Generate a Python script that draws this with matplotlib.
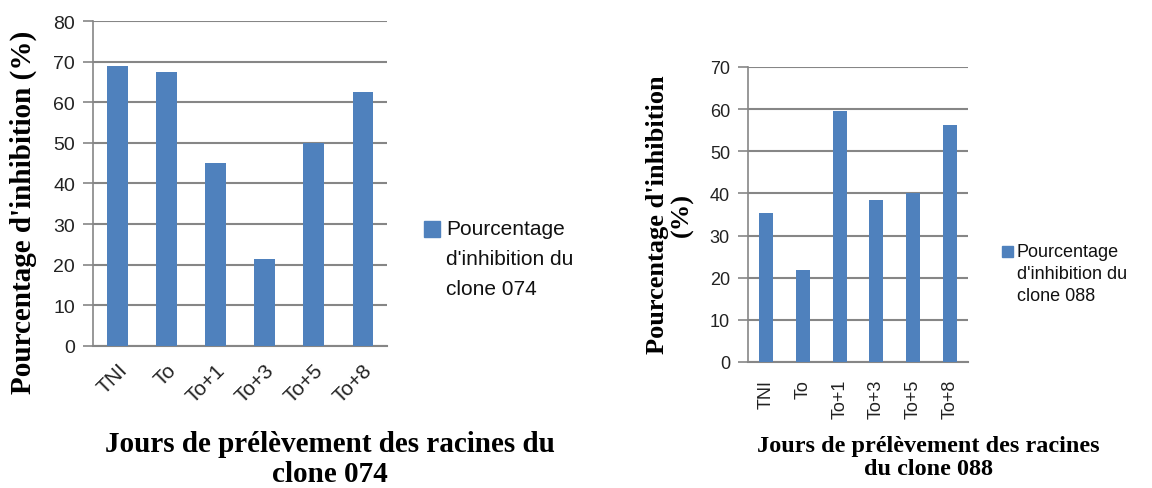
import matplotlib
matplotlib.use("Agg")
import matplotlib.pyplot as plt
from matplotlib.patches import Rectangle

# Inhibition percentages per sampling day
days_074 = ["TNI", "To", "To+1", "To+3", "To+5", "To+8"]
inhib_074 = [69, 67.5, 45, 21.5, 50, 62.5]

days_088 = ["TNI", "To", "To+1", "To+3", "To+5", "To+8"]
inhib_088 = [35.3, 21.8, 59.5, 38.5, 40, 56.2]

yticks_074 = [0, 10, 20, 30, 40, 50, 60, 70, 80]
yticks_088 = [0, 10, 20, 30, 40, 50, 60, 70]

legend_074 = "Pourcentage\nd'inhibition du\nclone 074"
legend_088 = "Pourcentage\nd'inhibition du\nclone 088"

BAR = "#4F81BD"
GRID = "#868686"
SANS = "Liberation Sans"
SERIF = "Liberation Serif"

W, H = 1152, 489
fig = plt.figure(figsize=(W / 100, H / 100), dpi=100)


def px(x, y):
    """Pixel position (from top-left) to figure fraction."""
    return x / W, 1 - y / H


def draw(ax, cats, vals, yticks, width, ytick_size, xtick_size, rot):
    x = [i + 0.5 for i in range(len(cats))]
    ax.bar(x, vals, width=width, color=BAR, zorder=3)
    ax.set_xlim(0, len(cats))
    ax.set_ylim(yticks[0], yticks[-1])
    ax.set_yticks(yticks)
    ax.set_xticks(x)
    if rot == 45:
        ax.set_xticklabels(cats, rotation=45, ha="right", rotation_mode="anchor",
                           fontsize=xtick_size, family=SANS, color="#222222")
        ax.tick_params(axis="x", length=0, pad=10)
    else:
        ax.set_xticklabels(cats, rotation=90, ha="center",
                           fontsize=xtick_size, family=SANS, color="#222222")
        ax.tick_params(axis="x", length=0, pad=12)
    ax.tick_params(axis="y", length=7, width=1.2, color=GRID, pad=6, labelsize=ytick_size)
    for lab in ax.get_yticklabels():
        lab.set_family(SANS)
        lab.set_color("#222222")
    ax.grid(axis="y", color=GRID, linewidth=1.5, zorder=0)
    for s in ("top", "right"):
        ax.spines[s].set_visible(False)
    ax.spines["left"].set_color(GRID)
    ax.spines["left"].set_linewidth(1.2)
    ax.spines["bottom"].set_color(GRID)
    ax.spines["bottom"].set_linewidth(1.5)


def legend_box(x0, y0, size, tx, ty, label, fontsize, spacing):
    fx, fy = px(x0, y0 + size)
    fig.patches.append(Rectangle((fx, fy), size / W, size / H, transform=fig.transFigure,
                                 color=BAR, figure=fig))
    tfx, tfy = px(tx, ty)
    fig.text(tfx, tfy, label, ha="left", va="top", fontsize=fontsize, family=SANS,
             linespacing=spacing, color="#111111")


# Clone 074
ax1 = fig.add_axes([0.0807, 0.2904, 0.2553, 0.6646])
draw(ax1, days_074, inhib_074, yticks_074, 0.41, 14, 15, 45)
fig.text(0.02, 0.566, "Pourcentage d'inhibition (%)", rotation=90, ha="center", va="center",
         fontsize=21, fontweight="bold", family=SERIF)
fig.text(0.286, 0.061, "Jours de prélèvement des racines du\nclone 074", ha="center", va="center",
         fontsize=21, fontweight="bold", family=SERIF, linespacing=1.15)
legend_box(424, 222, 16, 446, 220, legend_074, 15, 1.72)

# Clone 088
ax2 = fig.add_axes([0.6493, 0.2577, 0.1910, 0.6033])
draw(ax2, days_088, inhib_088, yticks_088, 0.38, 13, 13, 90)
fig.text(0.5816, 0.56, "Pourcentage d'inhibition\n(%)", rotation=90, ha="center", va="center",
         fontsize=19, fontweight="bold", family=SERIF, linespacing=1.05)
fig.text(0.806, 0.064, "Jours de prélèvement des racines\ndu clone 088", ha="center", va="center",
         fontsize=17.5, fontweight="bold", family=SERIF, linespacing=1.15)
legend_box(1002, 247, 11, 1017, 244, legend_088, 13, 1.38)

fig.savefig("out.png", dpi=100)
